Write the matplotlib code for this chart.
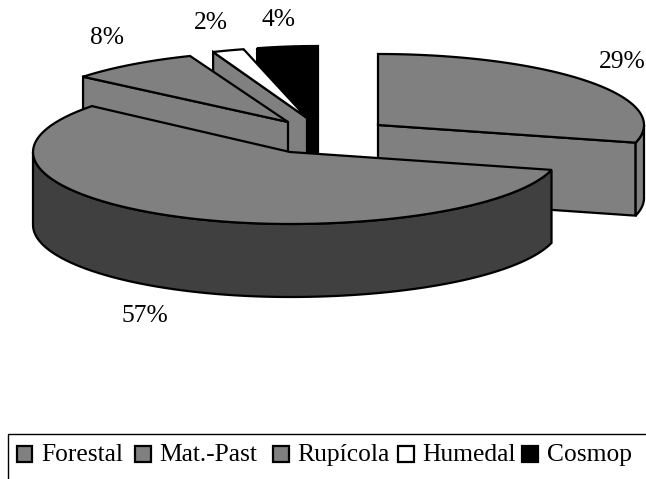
import numpy as np
import matplotlib
matplotlib.use('Agg')
import matplotlib.pyplot as plt
from matplotlib.patches import Polygon, Rectangle

plt.rcParams['font.family'] = ['Liberation Serif', 'DejaVu Serif']

categories = ['Forestal', 'Mat.-Past', 'Rupícola', 'Humedal', 'Cosmop']
values = [29, 57, 8, 2, 4]

top_colors = ['#808080', '#808080', '#808080', '#ffffff', '#000000']
side_colors = ['#808080', '#808080', '#808080', '#808080', '#000000']
wall_colors = ['#808080', '#404040', '#808080', '#808080', '#000000']

# pixel layout of every exploded slice: apex x, apex y, rx left, rx right, ry
slice_geom = [(378, 125, 267, 266, 71),
              (290, 152, 257, 270, 72),
              (288, 122, 266, 266, 71),
              (307, 118, 255, 255, 71),
              (318, 117, 245, 245, 71)]
DEPTH = 73

# which cut face of a slice can be seen: 0 = start edge, 1 = end edge
visible_faces = [[1], [], [0], [0], [0]]

label_pos = [(622, 62), (145, 316), (107, 38), (211, 23), (279, 20)]

legend_box_x = [16.5, 135, 273, 398, 522]
legend_text_x = [41, 159, 297.5, 422, 547]

LW = 1.6
FS = 18.4


def rim(geom, start, end, n=80):
    cx, cy, rxl, rxr, ry = geom
    t = np.radians(np.linspace(start, end, n))
    s = np.sin(t)
    x = cx + np.where(s > 0, rxr, rxl) * s
    y = cy - ry * np.cos(t)
    return np.column_stack([x, y])


def draw_slice(ax, geom, start, end, faces, top, side, wall, z):
    apex = np.array(geom[:2], dtype=float)
    down = np.array([0, DEPTH])

    # flat cut faces running from the rim to the apex
    for k in faces:
        p = rim(geom, (start, end)[k], (start, end)[k], 1)[0]
        face = np.array([p, apex, apex + down, p + down])
        ax.add_patch(Polygon(face, closed=True, fc=side, ec='black', lw=LW, zorder=z))

    # outer wall, only the part of the rim that faces the viewer
    a0, a1 = max(start, 90), min(end, 270)
    if a1 > a0:
        arc = rim(geom, a0, a1)
        wall_pts = np.vstack([arc, (arc + down)[::-1]])
        ax.add_patch(Polygon(wall_pts, closed=True, fc=wall, ec='black', lw=LW, zorder=z))

    # top face
    arc = rim(geom, start, end)
    ax.add_patch(Polygon(np.vstack([apex, arc]), closed=True, fc=top, ec='black', lw=LW,
                         joinstyle='miter', zorder=z))


fig = plt.figure(figsize=(6.46, 4.79), dpi=100)
ax = fig.add_axes([0, 0, 1, 1])
ax.set_xlim(0, 646)
ax.set_ylim(479, 0)
ax.axis('off')

edges = np.concatenate([[0], np.cumsum(values)]) / np.sum(values) * 360

# back to front: Forestal, Cosmop, Humedal, Rupicola, then the big slice
for z, i in enumerate([0, 4, 3, 2, 1]):
    draw_slice(ax, slice_geom[i], edges[i], edges[i + 1], visible_faces[i],
               top_colors[i], side_colors[i], wall_colors[i], z + 1)

for i in range(len(values)):
    ax.text(label_pos[i][0], label_pos[i][1], f'{values[i]}%', fontsize=FS,
            ha='center', va='center', color='black', zorder=10)

# legend frame runs off the right and bottom of the picture
ax.add_patch(Rectangle((8, 434), 700, 80, fc='white', ec='black', lw=1.0, zorder=8))
for i, name in enumerate(categories):
    ax.add_patch(Rectangle((legend_box_x[i], 446), 15.5, 16, fc=top_colors[i], ec='black',
                           lw=1.6, zorder=9))
    ax.text(legend_text_x[i], 461, name, fontsize=FS, ha='left', va='baseline',
            color='black', zorder=10)

fig.savefig('out.png', dpi=100, facecolor='white')
